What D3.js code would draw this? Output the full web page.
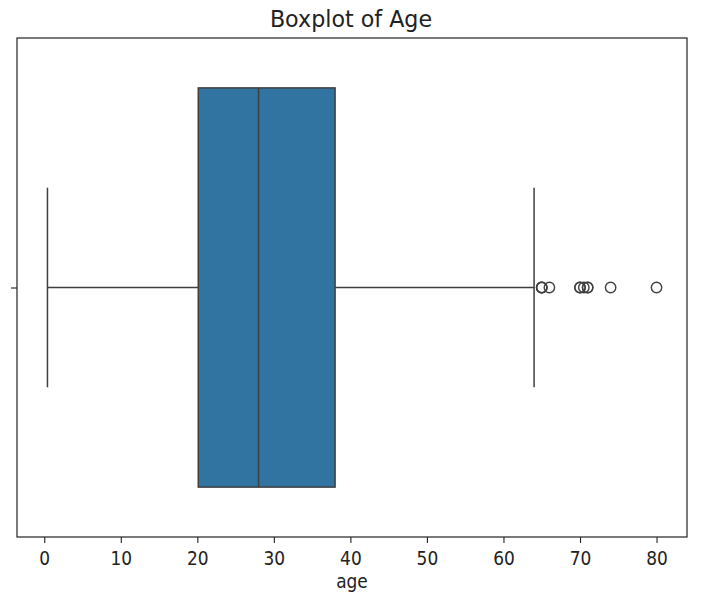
<!DOCTYPE html>
<html>
<head>
<meta charset="utf-8">
<script src="https://cdn.jsdelivr.net/npm/d3@7"></script>
<style>
  body { margin: 0; background: #fff; }
  svg { font-family: "DejaVu Sans", sans-serif; }
</style>
</head>
<body>
<div id="chart"></div>
<script>
// summary stats (Titanic age column)
const boxStats = { min: 0.42, q1: 20.125, median: 28, q3: 38, max: 64 };
const outliers = [65, 65, 65, 66, 70, 70, 70.5, 71, 71, 74, 80];
const xTicks = [0, 10, 20, 30, 40, 50, 60, 70, 80];

const width = 711, height = 593;
const margin = { top: 38, right: 24, bottom: 56, left: 17 };
const w = width - margin.left - margin.right,
      h = height - margin.top - margin.bottom;

const svg = d3.select('#chart').append('svg')
    .attr('width', width)
    .attr('height', height);

const g = svg.append('g')
    .attr('transform', `translate(${margin.left},${margin.top})`);

const x = d3.scaleLinear().domain([-3.56, 83.98]).range([0, w]);
const y = d3.scaleLinear().domain([-0.5, 0.5]).range([0, h]);

const lineColor = '#3f3f3f';
const boxHalf = 0.4;

// whiskers
g.append('line')
    .attr('x1', x(boxStats.min)).attr('x2', x(boxStats.q1))
    .attr('y1', y(0)).attr('y2', y(0))
    .attr('stroke', lineColor).attr('stroke-width', 1.5);
g.append('line')
    .attr('x1', x(boxStats.q3)).attr('x2', x(boxStats.max))
    .attr('y1', y(0)).attr('y2', y(0))
    .attr('stroke', lineColor).attr('stroke-width', 1.5);

// caps
[boxStats.min, boxStats.max].forEach(v => {
    g.append('line')
        .attr('x1', x(v)).attr('x2', x(v))
        .attr('y1', y(-boxHalf / 2)).attr('y2', y(boxHalf / 2))
        .attr('stroke', lineColor).attr('stroke-width', 1.5);
});

// box
g.append('rect')
    .attr('x', x(boxStats.q1))
    .attr('y', y(-boxHalf))
    .attr('width', x(boxStats.q3) - x(boxStats.q1))
    .attr('height', y(boxHalf) - y(-boxHalf))
    .attr('fill', '#3274a1')
    .attr('stroke', lineColor).attr('stroke-width', 1.5);

// median
g.append('line')
    .attr('x1', x(boxStats.median)).attr('x2', x(boxStats.median))
    .attr('y1', y(-boxHalf)).attr('y2', y(boxHalf))
    .attr('stroke', lineColor).attr('stroke-width', 1.5);

// fliers
g.selectAll('.flier')
    .data(outliers)
    .enter().append('circle')
    .attr('class', 'flier')
    .attr('cx', d => x(d))
    .attr('cy', y(0))
    .attr('r', 5.2)
    .attr('fill', 'none')
    .attr('stroke', lineColor)
    .attr('stroke-width', 1.4);

// frame
g.append('rect')
    .attr('width', w).attr('height', h)
    .attr('fill', 'none')
    .attr('stroke', '#222').attr('stroke-width', 1.2);

// x axis
const xAxis = g.append('g')
    .attr('transform', `translate(0,${h})`)
    .call(d3.axisBottom(x).tickValues(xTicks).tickSize(6));
xAxis.select('.domain').remove();
xAxis.selectAll('line').attr('stroke', '#222').attr('stroke-width', 1.1);
xAxis.selectAll('text')
    .attr('font-size', 17)
    .attr('fill', '#222')
    .attr('font-family', '"DejaVu Sans", sans-serif')
    .attr('y', 0).attr('dy', 0)
    .attr('transform', 'translate(0,28) scale(1,1.1)');

// y axis: single empty tick at centre
const yAxis = g.append('g')
    .call(d3.axisLeft(y).tickValues([0]).tickFormat(() => '').tickSize(6));
yAxis.select('.domain').remove();
yAxis.selectAll('line').attr('stroke', '#222').attr('stroke-width', 1.1);

// labels
svg.append('text')
    .attr('transform', `translate(${margin.left + w / 2},588) scale(1,1.1)`)
    .attr('text-anchor', 'middle')
    .attr('font-size', 17)
    .attr('fill', '#222')
    .text('age');

svg.append('text')
    .attr('transform', `translate(${margin.left + w / 2 - 1},26.5) scale(1,1.07)`)
    .attr('text-anchor', 'middle')
    .attr('font-size', 22.2)
    .attr('fill', '#222')
    .text('Boxplot of Age');
</script>
</body>
</html>
